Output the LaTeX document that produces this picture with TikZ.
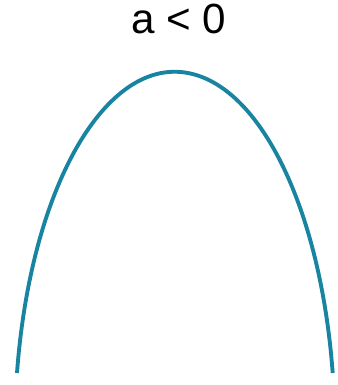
\documentclass[tikz,border=0pt]{standalone}
\usepackage{fontspec}
\setmainfont{Liberation Sans}
\definecolor{curveteal}{RGB}{24,132,162}

\begin{document}
\begin{tikzpicture}[
  curve/.style={draw=curveteal, line width=2.2pt},
  lbl/.style={font=\fontsize{24}{28}\selectfont, inner sep=0pt}
]
  \useasboundingbox (0,0) rectangle (6.74,7.7);
  \node[lbl] (title) at (3.58,7.32) {a < 0};

  % downward opening curve
  \coordinate (left) at (0.34,0.24);
  \draw[curve] (left) arc[start angle=170.6, end angle=9.4,
    x radius=3.2, y radius=7.2];
\end{tikzpicture}
\end{document}
